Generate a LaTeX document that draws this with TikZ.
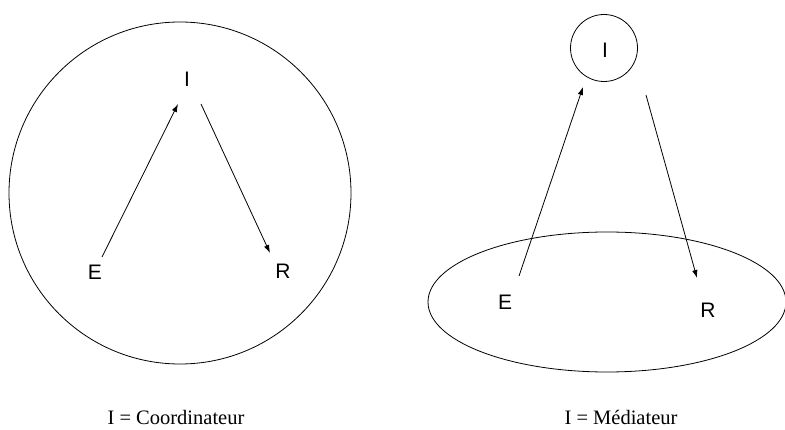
\documentclass[tikz,border=0pt]{standalone}
\usepackage{fontspec}
\setmainfont{Liberation Serif}
\newfontfamily\labelfont{Liberation Sans}
\usetikzlibrary{arrows.meta,shapes.geometric}
\begin{document}
\begin{tikzpicture}[x=1pt,y=-1pt,
  lbl/.style={font=\labelfont\fontsize{21}{24}\selectfont, inner sep=0pt},
  captext/.style={font=\fontsize{20.5}{24}\selectfont, inner sep=0pt},
  arr/.style={-{Latex[length=8pt,width=5.5pt]}, line width=0.8pt},
  outline/.style={draw, line width=0.8pt}]
\useasboundingbox (0,0) rectangle (785,430);
% left
\node[outline, circle, minimum size=342pt] (C) at (180,193) {};
\node[lbl] (I1) at (187,79) {I};
\node[lbl] (E1) at (95,272) {E};
\node[lbl] (R1) at (283,271) {R};
\coordinate (a1s) at (102,257);
\coordinate (a1e) at (178,104);
\coordinate (b1s) at (201,104);
\coordinate (b1e) at (270,253);
\draw[arr] (a1s) -- (a1e);
\draw[arr] (b1s) -- (b1e);
\node[captext] (L1) at (176,417) {I = Coordinateur};
% right
\node[outline, circle, minimum size=67pt] (IC) at (604,48) {};
\node[lbl] (I2) at (605,50) {I};
\node[outline, ellipse, minimum width=358pt, minimum height=140pt] (EL) at (607,302) {};
\node[lbl] (E2) at (505,302) {E};
\node[lbl] (R2) at (708,310) {R};
\coordinate (a2s) at (519,276);
\coordinate (a2e) at (583,87);
\coordinate (b2s) at (646,95);
\coordinate (b2e) at (697,278);
\draw[arr] (a2s) -- (a2e);
\draw[arr] (b2s) -- (b2e);
\node[captext] (L2) at (621,417) {I = Médiateur};
\end{tikzpicture}
\end{document}
